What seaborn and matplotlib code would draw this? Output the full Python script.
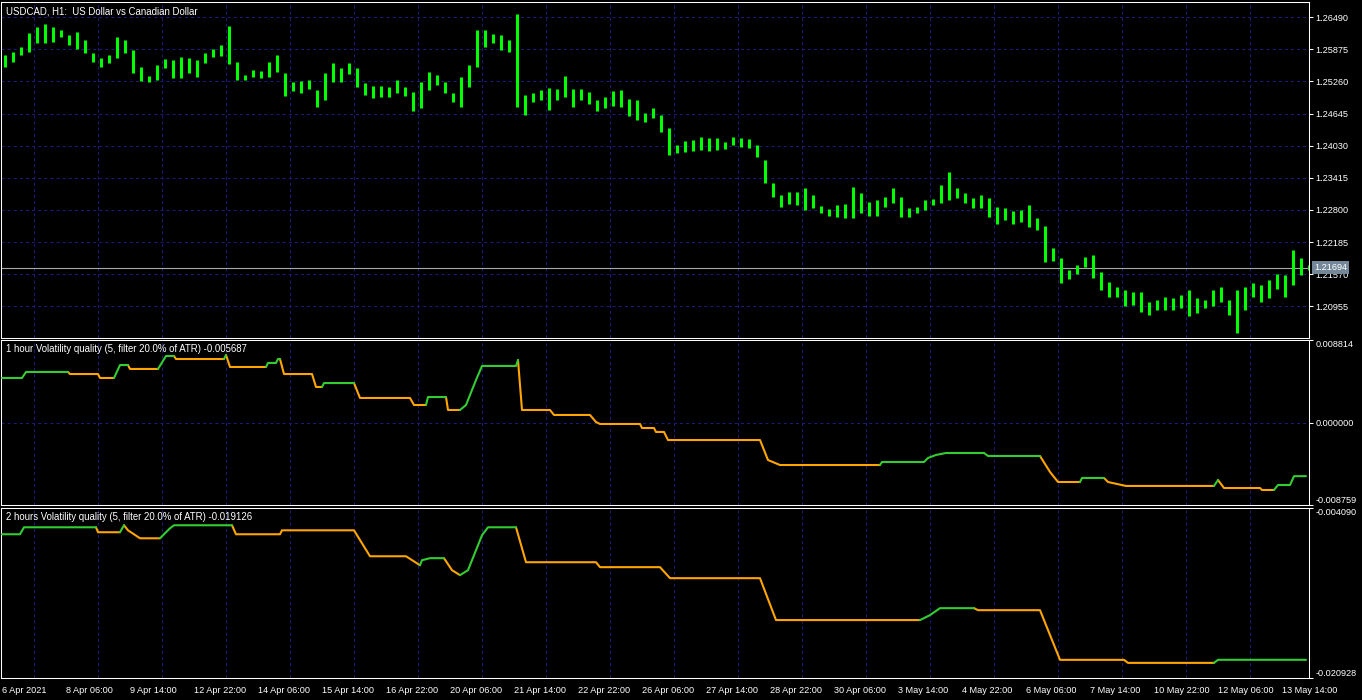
import numpy as np
import pandas as pd
import matplotlib
matplotlib.use("Agg")
import matplotlib.pyplot as plt
import seaborn as sns

# ==========================================
# DATA
# ==========================================
# USDCAD H1, grouped by 4 bars: high / low of each group
price_hi = [1.2577, 1.2583, 1.2592, 1.2619, 1.2631, 1.2636, 1.2631, 1.2625, 1.2615, 1.2621,
            1.2606, 1.2581, 1.2571, 1.2577, 1.2611, 1.2606, 1.2586, 1.2554, 1.2537, 1.2558,
            1.2569, 1.2567, 1.2573, 1.2571, 1.2567, 1.2581, 1.2588, 1.2596, 1.2632, 1.2563,
            1.2539, 1.2548, 1.2546, 1.2563, 1.2577, 1.2542, 1.2525, 1.2527, 1.2529, 1.2510,
            1.2542, 1.2562, 1.2552, 1.2562, 1.2552, 1.2523, 1.2517, 1.2517, 1.2516, 1.2529,
            1.2516, 1.2506, 1.2525, 1.2544, 1.2539, 1.2525, 1.2504, 1.2535, 1.2558, 1.2625,
            1.2625, 1.2617, 1.2615, 1.2606, 1.2655, 1.2500, 1.2504, 1.2510, 1.2514, 1.2512,
            1.2537, 1.2512, 1.2512, 1.2506, 1.2491, 1.2496, 1.2508, 1.2510, 1.2493, 1.2491,
            1.2466, 1.2475, 1.2462, 1.2437, 1.2404, 1.2412, 1.2414, 1.2420, 1.2418, 1.2418,
            1.2410, 1.2420, 1.2418, 1.2416, 1.2404, 1.2376, 1.2332, 1.2309, 1.2314, 1.2314,
            1.2322, 1.2309, 1.2288, 1.2282, 1.2289, 1.2291, 1.2324, 1.2312, 1.2295, 1.2299,
            1.2305, 1.2322, 1.2305, 1.2284, 1.2286, 1.2299, 1.2301, 1.2328, 1.2353, 1.2322,
            1.2312, 1.2303, 1.2309, 1.2303, 1.2286, 1.2284, 1.2278, 1.2280, 1.2289, 1.2265,
            1.2249, 1.2207, 1.2188, 1.2165, 1.2175, 1.2190, 1.2194, 1.2161, 1.2142, 1.2132,
            1.2127, 1.2123, 1.2123, 1.2104, 1.2107, 1.2113, 1.2111, 1.2117, 1.2127, 1.2111,
            1.2107, 1.2127, 1.2132, 1.2107, 1.2127, 1.2132, 1.2140, 1.2136, 1.2146, 1.2157,
            1.2155, 1.2203, 1.2188, 1.2175]
price_lo = [1.2554, 1.2563, 1.2577, 1.2583, 1.2600, 1.2600, 1.2602, 1.2611, 1.2596, 1.2588,
            1.2581, 1.2563, 1.2554, 1.2562, 1.2571, 1.2581, 1.2542, 1.2527, 1.2525, 1.2529,
            1.2552, 1.2533, 1.2533, 1.2542, 1.2535, 1.2562, 1.2573, 1.2575, 1.2560, 1.2529,
            1.2529, 1.2535, 1.2533, 1.2535, 1.2544, 1.2498, 1.2508, 1.2504, 1.2512, 1.2477,
            1.2491, 1.2525, 1.2525, 1.2540, 1.2516, 1.2500, 1.2494, 1.2496, 1.2496, 1.2504,
            1.2498, 1.2470, 1.2475, 1.2510, 1.2519, 1.2504, 1.2487, 1.2477, 1.2516, 1.2554,
            1.2592, 1.2600, 1.2586, 1.2583, 1.2477, 1.2462, 1.2487, 1.2491, 1.2471, 1.2491,
            1.2496, 1.2477, 1.2491, 1.2483, 1.2470, 1.2475, 1.2479, 1.2477, 1.2460, 1.2452,
            1.2448, 1.2456, 1.2429, 1.2385, 1.2389, 1.2391, 1.2393, 1.2395, 1.2393, 1.2395,
            1.2397, 1.2404, 1.2401, 1.2399, 1.2381, 1.2332, 1.2305, 1.2286, 1.2291, 1.2289,
            1.2280, 1.2284, 1.2274, 1.2268, 1.2266, 1.2265, 1.2265, 1.2274, 1.2268, 1.2268,
            1.2286, 1.2293, 1.2266, 1.2266, 1.2274, 1.2280, 1.2289, 1.2293, 1.2299, 1.2303,
            1.2293, 1.2284, 1.2284, 1.2266, 1.2253, 1.2261, 1.2253, 1.2257, 1.2247, 1.2242,
            1.2180, 1.2182, 1.2140, 1.2148, 1.2157, 1.2171, 1.2150, 1.2127, 1.2113, 1.2113,
            1.2096, 1.2098, 1.2084, 1.2079, 1.2088, 1.2088, 1.2088, 1.2092, 1.2077, 1.2083,
            1.2092, 1.2096, 1.2104, 1.2079, 1.2044, 1.2088, 1.2113, 1.2104, 1.2111, 1.2129,
            1.2113, 1.2136, 1.2155, 1.2165]
last_price = 1.21694

price_ticks = [1.26490, 1.25875, 1.25260, 1.24645, 1.24030, 1.23415, 1.22800, 1.22185, 1.21570, 1.20955]
time_labels = ["6 Apr 2021", "8 Apr 06:00", "9 Apr 14:00", "12 Apr 22:00", "14 Apr 06:00",
               "15 Apr 14:00", "16 Apr 22:00", "20 Apr 06:00", "21 Apr 14:00", "22 Apr 22:00",
               "26 Apr 06:00", "27 Apr 14:00", "28 Apr 22:00", "30 Apr 06:00", "3 May 14:00",
               "4 May 22:00", "6 May 06:00", "7 May 14:00", "10 May 22:00", "12 May 06:00",
               "13 May 14:00"]

# Volatility quality, 1 hour (bar index, value, 1 = up/green, 0 = down/orange)
vq1_bar = [0, 10, 12, 33, 34, 48, 49, 56, 59, 63, 64, 78, 82, 86, 87, 111, 112, 114, 132, 133,
           137, 138, 139, 141, 155, 157, 160, 161, 176, 179, 204, 206, 212, 213, 222, 223, 229, 232,
           237, 240, 257, 258, 260, 274, 276, 294, 297, 299, 319, 320, 326, 327, 331, 333, 379, 383,
           389, 439, 440, 461, 463, 467, 472, 491, 493, 519, 524, 528, 539, 540, 551, 553, 562, 606,
           608, 611, 629, 630, 636, 638, 644, 646, 652]
vq1_val = [0.00477, 0.00477, 0.00541, 0.00541, 0.00519, 0.00519, 0.00477, 0.00477, 0.00615, 0.00615,
           0.00573, 0.00573, 0.00711, 0.00711, 0.00679, 0.00679, 0.00722, 0.00594, 0.00594, 0.00637,
           0.00637, 0.00679, 0.00679, 0.00519, 0.00519, 0.00381, 0.00381, 0.00423, 0.00423, 0.00264,
           0.00264, 0.00189, 0.00189, 0.00274, 0.00274, 0.00136, 0.00136, 0.00189, 0.00455, 0.00605,
           0.00605, 0.00668, 0.00136, 0.00136, 0.00083, 0.00083, 0.00008, -0.00013, -0.00013, -0.00056,
           -0.00056, -0.00098, -0.00098, -0.00184, -0.00184, -0.00397, -0.00450, -0.00450, -0.00418, -0.00418,
           -0.00375, -0.00343, -0.00322, -0.00322, -0.00354, -0.00354, -0.00524, -0.00631, -0.00631, -0.00588,
           -0.00588, -0.00631, -0.00673, -0.00673, -0.00610, -0.00695, -0.00695, -0.00716, -0.00716, -0.00663,
           -0.00663, -0.005687, -0.005687]
vq1_up = [1, 1, 1, 1, 0, 0, 0, 0, 1, 1, 0, 0, 1, 1, 0, 0, 1, 0, 0, 1,
          1, 1, 1, 0, 0, 0, 0, 1, 1, 0, 0, 0, 0, 1, 1, 0, 0, 1, 1, 1,
          1, 1, 0, 0, 0, 0, 0, 0, 0, 0, 0, 0, 0, 0, 0, 0, 0, 0, 1, 1,
          1, 1, 1, 1, 1, 1, 0, 0, 0, 1, 1, 0, 0, 0, 1, 0, 0, 0, 0, 1,
          1, 1, 1]

# Volatility quality, 2 hours
vq2_bar = [0, 9, 11, 47, 48, 59, 61, 63, 69, 79, 84, 86, 115, 117, 139, 140, 176, 184, 202, 209,
           210, 214, 221, 225, 229, 233, 240, 243, 257, 262, 297, 299, 329, 334, 379, 387, 459, 464,
           469, 486, 488, 519, 529, 561, 563, 606, 608, 652]
vq2_val = [-0.00669, -0.00669, -0.00600, -0.00600, -0.00649, -0.00649, -0.00580, -0.00630, -0.00709, -0.00709,
           -0.00610, -0.00580, -0.00580, -0.00669, -0.00669, -0.00630, -0.00630, -0.00887, -0.00887, -0.00976,
           -0.00926, -0.00906, -0.00906, -0.01025, -0.01074, -0.01025, -0.00679, -0.00600, -0.00600, -0.00946,
           -0.00946, -0.00995, -0.00995, -0.01104, -0.01104, -0.01519, -0.01519, -0.01470, -0.01401, -0.01401,
           -0.01421, -0.01421, -0.01913, -0.01913, -0.01943, -0.01943, -0.019126, -0.019126]
vq2_up = [1, 1, 1, 1, 0, 0, 1, 0, 0, 0, 1, 1, 1, 0, 0, 0, 0, 0, 0, 0,
          1, 1, 1, 0, 0, 1, 1, 1, 1, 0, 0, 0, 0, 0, 0, 0, 0, 1, 1, 1,
          0, 0, 0, 0, 0, 0, 1, 1]
vq1_range = [-0.008759, 0.0, 0.008814]
vq2_range = [-0.020928, -0.004090]

# ==========================================
# STYLE
# ==========================================
sns.set_theme(style="dark", rc={
    "figure.facecolor": "black", "axes.facecolor": "black",
    "axes.edgecolor": "white", "axes.linewidth": 0.75,
    "text.color": "white", "xtick.color": "white", "ytick.color": "white",
    "lines.scale_dashes": False,
})
plt.rcParams["font.family"] = ["Liberation Sans", "DejaVu Sans"]

W, H = 1362, 700
fig = plt.figure(figsize=(W / 100, H / 100), dpi=100)


def panel(top, bottom):
    return fig.add_axes([1 / W, (H - bottom) / H, 1308 / W, (bottom - top) / H])


ax0 = panel(2, 338)
ax1 = panel(340, 505)
ax2 = panel(508, 678)

GREEN, ORANGE, GRID = "#32cd32", "#ffa500", "#1c1c78"
FS = 6.6
DASH = (0, (2.2, 2.2))

# ==========================================
# PRICE PANEL
# ==========================================
xg = np.arange(len(price_hi)) * 4 + 1.5
ax0.vlines(xg, price_lo, price_hi, color="#00ff00", linewidth=2.2, zorder=3)
ax0.axhline(last_price, color="#a8a8a8", linewidth=0.8, zorder=2)
ax0.annotate(f"{last_price:.5f}", xy=(1, last_price), xycoords=ax0.get_yaxis_transform(),
             xytext=(5, 0), textcoords="offset pixels", ha="left", va="center", fontsize=FS,
             color="white", annotation_clip=False,
             bbox=dict(boxstyle="square,pad=0.2", fc="#75889a", ec="none"))
ax0.set_ylim(1.20346, 1.26783)
ax0.set_yticks(price_ticks, labels=[f"{v:.5f}" for v in price_ticks])
ax0.yaxis.grid(True, color=GRID, linestyle=DASH, linewidth=0.75)

# ==========================================
# VOLATILITY QUALITY PANELS
# ==========================================
def runs_frame(bars, vals, ups):
    rows = []
    run = 0
    for k in range(1, len(bars)):
        if k > 1 and ups[k] != ups[k - 1]:
            run += 1
        rows.append((run, bars[k - 1], vals[k - 1], ups[k]))
        rows.append((run, bars[k], vals[k], ups[k]))
    return pd.DataFrame(rows, columns=["run", "bar", "value", "up"])


for ax, bars, vals, ups in [(ax1, vq1_bar, vq1_val, vq1_up), (ax2, vq2_bar, vq2_val, vq2_up)]:
    df = runs_frame(bars, vals, ups)
    sns.lineplot(data=df, x="bar", y="value", hue="up", units="run", estimator=None, sort=False,
                 palette={1: GREEN, 0: ORANGE}, linewidth=1.5, legend=False, ax=ax, zorder=3)
    ax.set_xlabel("")
    ax.set_ylabel("")

ax1.set_ylim(vq1_range[0], vq1_range[-1])
ax1.set_yticks(vq1_range, labels=[f"{v:.6f}" for v in vq1_range])
ax1.yaxis.grid(True, color=GRID, linestyle=DASH, linewidth=0.75)
ax2.set_ylim(vq2_range[0], vq2_range[-1])
ax2.set_yticks(vq2_range, labels=[f"{v:.6f}" for v in vq2_range])
ax2.yaxis.grid(False)

# ==========================================
# COMMON AXES
# ==========================================
major = np.arange(0, 641, 32)
for ax in (ax0, ax1, ax2):
    ax.set_xlim(-0.5, 653.5)
    ax.set_xticks(major)
    ax.set_xticks(np.arange(0, 654, 16), minor=True)
    ax.xaxis.grid(True, which="minor", color=GRID, linestyle=DASH, linewidth=0.75)
    ax.xaxis.grid(False, which="major")
    ax.set_axisbelow(True)
    ax.yaxis.tick_right()
    ax.tick_params(axis="y", which="both", right=True, left=False, labelright=True, labelleft=False,
                   direction="out", length=3, width=0.75, pad=1.5, labelsize=FS, colors="white")
    ax.tick_params(axis="x", which="minor", length=0)
    for sp in ax.spines.values():
        sp.set_color("white")
        sp.set_linewidth(0.75)

for ax in (ax0, ax1):
    ax.tick_params(axis="x", which="both", bottom=False, labelbottom=False)

ax2.set_xticks(major, labels=time_labels)
ax2.tick_params(axis="x", which="major", direction="out", length=3.6, width=0.75, pad=2,
                labelsize=FS, colors="white")
for lab in ax2.get_xticklabels():
    lab.set_ha("left")

# titles
titles = ["USDCAD, H1:  US Dollar vs Canadian Dollar",
          "1 hour Volatility quality (5, filter 20.0% of ATR) -0.005687",
          "2 hours Volatility quality (5, filter 20.0% of ATR) -0.019126"]
for ax, t in zip((ax0, ax1, ax2), titles):
    ax.annotate(t, xy=(0, 1), xycoords="axes fraction", xytext=(5, -4), textcoords="offset pixels",
                ha="left", va="top", fontsize=6.9, color="white", zorder=5)

# edge labels of the indicator scales sit inside the panel
fig.canvas.draw()
for ax in (ax1, ax2):
    labs = ax.yaxis.get_majorticklabels()
    labs[0].set_verticalalignment("bottom")
    labs[-1].set_verticalalignment("top")

fig.savefig("out.png", dpi=100, facecolor="black")
